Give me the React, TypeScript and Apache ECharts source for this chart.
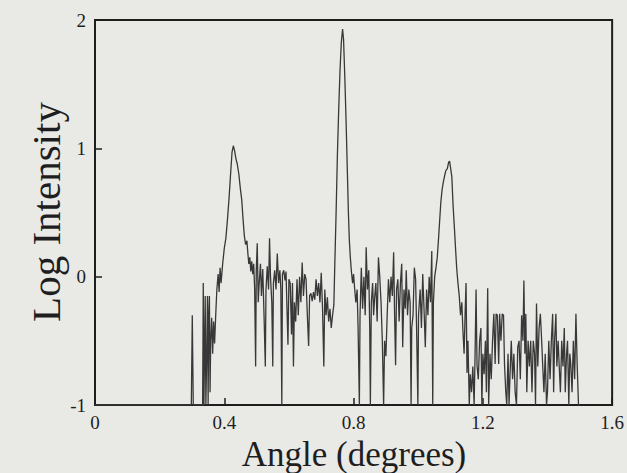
import React, { useEffect, useRef } from "react";
import * as echarts from "echarts";

const xTickLabels = ["0", "0.4", "0.8", "1.2", "1.6"];
const yTickLabels = ["-1", "0", "1", "2"];
const xTitle = "Angle (degrees)";
const yTitle = "Log Intensity";

// [angle, log intensity]
const scan: [number, number][] = [
  [0.0, -1], [0.298, -1], [0.301, -0.3], [0.304, -1], [0.333, -1], [0.335, -0.05], [0.337, -1],
  [0.341, -0.15], [0.343, -1], [0.346, -0.55], [0.348, -0.15], [0.35, -1], [0.352, -0.3], [0.354, -0.15],
  [0.356, -0.9], [0.358, -0.5], [0.361, -0.32], [0.364, -0.6], [0.367, -0.35], [0.37, -0.52], [0.373, -0.33],
  [0.377, -0.1], [0.381, 0.02], [0.384, -0.12], [0.387, 0.07], [0.39, -0.05], [0.395, 0.1], [0.4, 0.22],
  [0.405, 0.3], [0.41, 0.45], [0.415, 0.62], [0.42, 0.82], [0.424, 0.97], [0.428, 1.02], [0.432, 0.98],
  [0.436, 0.92], [0.44, 0.88], [0.445, 0.8], [0.45, 0.68], [0.454, 0.6], [0.458, 0.45], [0.462, 0.32],
  [0.466, 0.25], [0.47, 0.28], [0.473, 0.18], [0.476, 0.1], [0.479, 0.15], [0.482, 0.04], [0.485, 0.12],
  [0.488, 0.02], [0.491, 0.1], [0.494, -0.1], [0.497, -0.7], [0.499, 0.05], [0.502, 0.26], [0.505, -0.2],
  [0.508, -0.05], [0.512, 0.1], [0.515, -0.15], [0.519, 0.06], [0.523, -0.3], [0.527, -0.7], [0.529, -0.1],
  [0.533, 0.08], [0.537, -0.1], [0.54, 0.3], [0.543, 0.0], [0.547, -0.2], [0.55, -0.7], [0.552, -0.05],
  [0.556, 0.05], [0.56, -0.1], [0.564, 0.18], [0.568, -0.05], [0.572, 0.05], [0.575, -0.1], [0.578, -1],
  [0.58, 0.02], [0.584, 0.05], [0.588, -0.03], [0.591, 0.04], [0.594, -0.25], [0.597, -0.53], [0.6, -0.02],
  [0.604, -0.05], [0.608, -0.45], [0.611, -0.05], [0.614, -0.7], [0.617, -0.2], [0.621, -0.35], [0.625, -0.02],
  [0.629, -0.3], [0.633, 0.0], [0.637, -0.2], [0.641, 0.11], [0.645, -0.15], [0.649, 0.02], [0.653, -0.02],
  [0.657, -0.3], [0.661, -0.54], [0.664, -0.15], [0.668, -0.13], [0.672, -0.19], [0.676, -0.12], [0.68, -0.18],
  [0.684, -0.02], [0.688, -0.15], [0.692, -0.05], [0.696, -0.2], [0.7, 0.03], [0.704, -0.25], [0.708, -0.7],
  [0.711, -0.1], [0.715, -0.3], [0.719, -0.16], [0.723, -0.35], [0.727, -0.25], [0.731, -0.4], [0.735, -0.3],
  [0.739, -0.22], [0.742, 0.1], [0.746, 0.5], [0.75, 0.95], [0.754, 1.3], [0.758, 1.6], [0.762, 1.82],
  [0.766, 1.93], [0.769, 1.85], [0.773, 1.55], [0.777, 1.2], [0.781, 0.8], [0.784, 0.5], [0.787, 0.28],
  [0.79, 0.15], [0.793, 0.05], [0.797, -0.05], [0.8, 0.02], [0.803, -0.08], [0.807, -0.2], [0.811, -0.1],
  [0.814, -0.4], [0.818, -1], [0.82, -0.3], [0.824, 0.07], [0.828, -0.25], [0.832, 0.0], [0.836, -0.3],
  [0.839, 0.23], [0.843, -0.1], [0.847, 0.05], [0.85, -0.4], [0.852, -1], [0.855, -0.2], [0.859, -0.05],
  [0.862, -0.3], [0.865, -0.17], [0.869, -0.05], [0.873, -0.35], [0.877, 0.15], [0.881, 0.0], [0.885, -0.2],
  [0.889, -0.5], [0.893, -1], [0.896, -0.5], [0.9, -0.62], [0.904, -0.3], [0.908, -0.02], [0.912, -0.2],
  [0.916, 0.0], [0.92, -0.15], [0.924, 0.19], [0.927, -0.3], [0.93, -0.69], [0.933, -0.1], [0.937, -0.02],
  [0.941, -0.35], [0.945, -0.05], [0.949, 0.1], [0.952, -0.55], [0.956, -0.1], [0.96, -0.25], [0.963, 0.05],
  [0.967, -0.3], [0.971, -0.1], [0.975, -0.2], [0.978, -1], [0.98, -0.4], [0.984, -0.3], [0.988, 0.07],
  [0.992, -0.02], [0.995, -0.4], [0.999, -1], [1.001, -0.3], [1.006, -0.1], [1.01, -0.4], [1.014, 0.02],
  [1.018, -0.25], [1.022, -0.55], [1.026, -0.1], [1.03, -0.3], [1.034, 0.0], [1.038, -0.2], [1.042, 0.2],
  [1.045, -1], [1.047, -0.2], [1.051, 0.0], [1.055, 0.07], [1.059, 0.15], [1.063, 0.3], [1.066, 0.42],
  [1.07, 0.58], [1.074, 0.68], [1.078, 0.74], [1.082, 0.79], [1.086, 0.83], [1.09, 0.84], [1.094, 0.89],
  [1.097, 0.9], [1.1, 0.85], [1.104, 0.78], [1.108, 0.55], [1.112, 0.38], [1.116, 0.2], [1.119, 0.07],
  [1.123, -0.05], [1.127, -0.15], [1.131, -0.3], [1.135, -0.2], [1.138, -0.4], [1.142, -0.6], [1.145, -0.3],
  [1.148, -0.05], [1.151, -0.75], [1.154, -0.5], [1.158, -1], [1.161, -0.76], [1.165, -0.9], [1.169, -0.7],
  [1.173, -1], [1.176, -0.6], [1.179, -0.1], [1.182, -0.69], [1.186, -0.8], [1.19, -0.5], [1.194, -0.4],
  [1.197, -1], [1.2, -0.6], [1.204, -0.76], [1.208, -0.5], [1.211, -0.9], [1.215, -0.09], [1.218, -1],
  [1.222, -0.6], [1.226, -0.8], [1.23, -0.5], [1.234, -0.29], [1.238, -0.68], [1.241, -0.29], [1.245, -0.3],
  [1.249, -0.68], [1.252, -0.29], [1.256, -0.5], [1.26, -0.29], [1.264, -0.3], [1.267, -0.68], [1.271, -0.9],
  [1.274, -1], [1.278, -0.6], [1.281, -1], [1.285, -0.7], [1.288, -0.5], [1.292, -0.8], [1.296, -0.6],
  [1.3, -0.9], [1.304, -1], [1.308, -0.55], [1.312, -0.5], [1.316, -0.8], [1.32, -0.3], [1.324, -0.5],
  [1.327, -0.03], [1.33, -0.6], [1.333, -0.29], [1.336, -0.9], [1.34, -0.5], [1.344, -0.7], [1.348, -0.5],
  [1.352, -0.9], [1.356, -0.5], [1.36, -0.6], [1.363, -1], [1.366, -0.21], [1.37, -0.7], [1.374, -0.4],
  [1.378, -0.29], [1.382, -0.5], [1.385, -0.68], [1.389, -0.9], [1.393, -0.6], [1.397, -1], [1.4, -0.9],
  [1.404, -0.5], [1.408, -0.8], [1.412, -0.5], [1.416, -0.29], [1.419, -0.9], [1.422, -0.5], [1.426, -0.29],
  [1.429, -0.7], [1.433, -0.5], [1.436, -0.68], [1.44, -0.9], [1.444, -0.5], [1.448, -0.7], [1.452, -0.4],
  [1.455, -0.9], [1.459, -0.6], [1.462, -0.5], [1.466, -1], [1.469, -0.6], [1.472, -0.68], [1.476, -0.9],
  [1.48, -0.5], [1.484, -0.8], [1.488, -0.29], [1.492, -0.7], [1.496, -1], [1.5, -1],
];

const FONT = "Liberation Serif";
const INK = "#1e1e1e";
const AXIS = "#1e1e1e";

export default function App() {
  const ref = useRef<HTMLDivElement>(null);
  useEffect(() => {
    if (!ref.current) return;
    const chart = echarts.init(ref.current, null, { renderer: "svg" });
    chart.setOption({
      animation: false,
      backgroundColor: "#e9e9e6",
      textStyle: { fontFamily: FONT },
      grid: {
        left: 95, right: 14, top: 20, bottom: 68,
        show: true, borderColor: AXIS, borderWidth: 2,
      },
      graphic: [
        {
          type: "text", x: 354, y: 454, silent: true,
          style: {
            text: xTitle, font: `35px ${FONT}`, fill: INK,
            textAlign: "center", textVerticalAlign: "middle",
          },
        },
        {
          type: "text", x: 46, y: 212, rotation: Math.PI / 2, silent: true,
          style: {
            text: yTitle, font: `41px ${FONT}`, fill: INK,
            textAlign: "center", textVerticalAlign: "middle",
          },
        },
      ],
      xAxis: {
        type: "value", min: 0, max: 1.6, interval: 0.4,
        axisLine: { show: true, onZero: false, lineStyle: { color: AXIS, width: 2 } },
        axisTick: { show: true, inside: true, length: 7, lineStyle: { color: AXIS, width: 1.5 } },
        splitLine: { show: false },
        axisLabel: {
          fontFamily: FONT, fontSize: 19, color: INK, margin: 8,
          formatter: (v: number) => xTickLabels[Math.round(v / 0.4)] ?? "",
        },
      },
      yAxis: {
        type: "value", min: -1, max: 2, interval: 1,
        axisLine: { show: true, onZero: false, lineStyle: { color: AXIS, width: 2 } },
        axisTick: { show: true, inside: true, length: 7, lineStyle: { color: AXIS, width: 1.5 } },
        splitLine: { show: false },
        axisLabel: {
          fontFamily: FONT, fontSize: 19, color: INK, margin: 9,
          formatter: (v: number) => yTickLabels[Math.round(v + 1)] ?? "",
        },
      },
      series: [
        {
          type: "line",
          data: scan,
          showSymbol: false,
          clip: true,
          lineStyle: { color: "#383838", width: 1.3 },
        },
      ],
    });
    return () => chart.dispose();
  }, []);
  return (
    <div
      ref={ref}
      style={{ position: "absolute", left: 0, top: 0, width: 627, height: 473 }}
    />
  );
}
